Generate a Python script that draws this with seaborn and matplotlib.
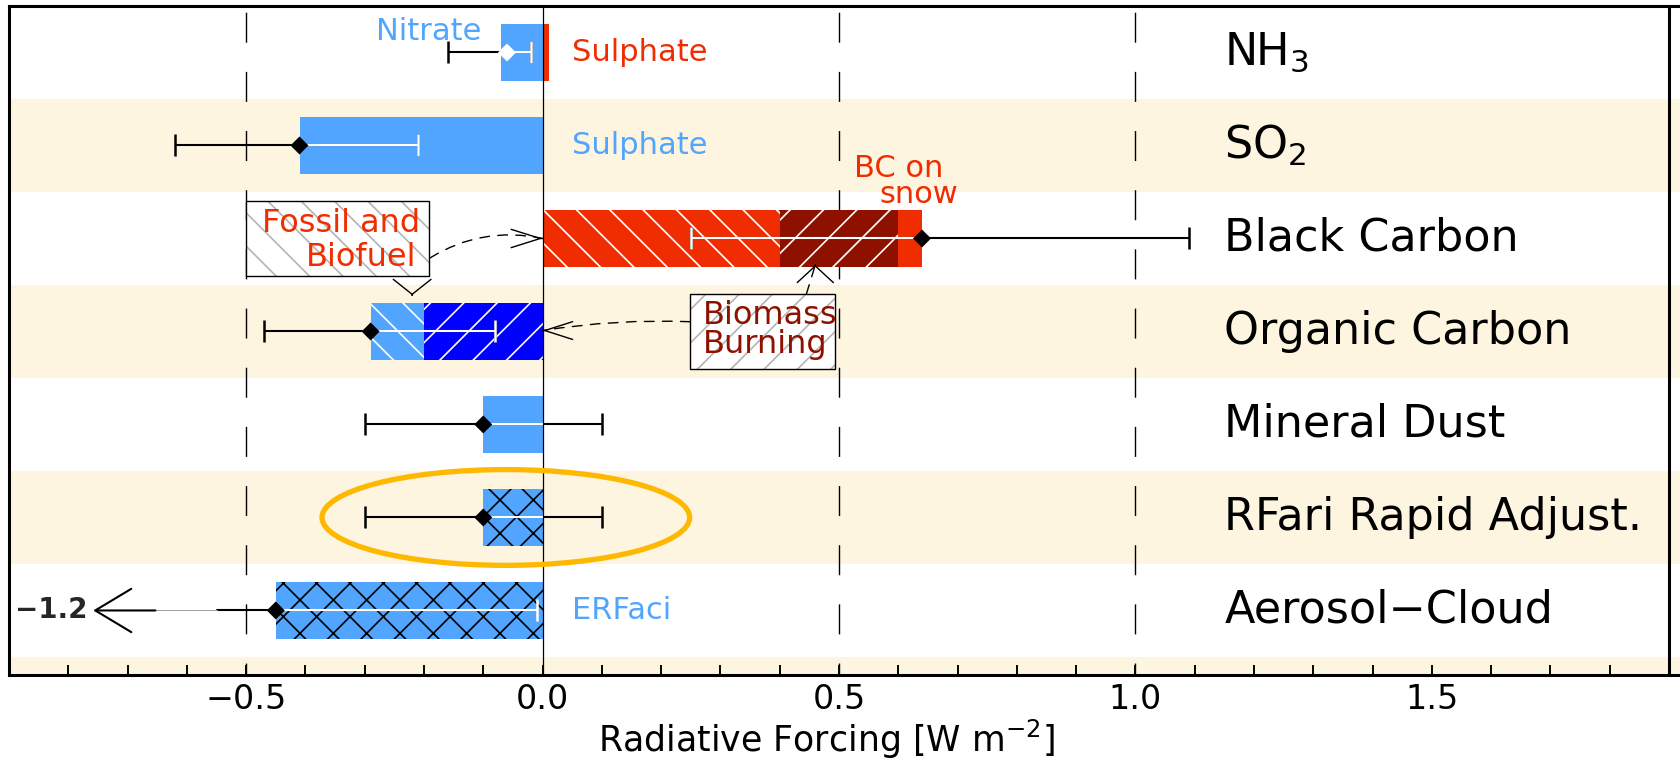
import numpy as np
import pandas as pd
import seaborn as sns
import matplotlib.pyplot as plt
from matplotlib.patches import Ellipse, Rectangle, FancyArrowPatch
from matplotlib.ticker import FixedLocator, MultipleLocator, FuncFormatter, NullFormatter

# aerosol forcing by component [W m-2]
rows = ['NH$_3$', 'SO$_2$', 'Black Carbon', 'Organic Carbon', 'Mineral Dust',
        'RFari Rapid Adjust.', 'Aerosol−Cloud']
best = [-0.06, -0.41, 0.64, -0.29, -0.10, -0.10, -0.45]
low = [-0.16, -0.62, 0.25, -0.47, -0.30, -0.30, -1.2]
high = [-0.02, -0.21, 1.09, -0.08, 0.10, 0.10, -0.01]
total_bar = [-0.07, -0.41, 0.64, -0.29, -0.10, -0.10, -0.45]

# pieces of the stacked bars
nh3_sulphate = 0.01
bc_fossil, bc_biomass, bc_snow = 0.40, 0.20, 0.04
oc_fossil, oc_biomass = -0.09, -0.20

LB = '#52A5FF'
RED = '#F02D00'
DRED = '#8E1100'
BLUE = '#0000FF'
CREAM = '#FDF5E0'
GOLD = '#FFB800'

bar_colors = [LB, LB, RED, LB, LB, LB, LB]
bar_hatch = ['', '', '', '\\\\', '', 'xx', 'xx']
hatch_col = ['white', 'white', 'white', 'white', 'white', 'black', 'black']
dia_col = ['white'] + ['black'] * 6

sns.set_theme(style='white')
plt.rcParams['font.family'] = ['DejaVu Sans']
plt.rcParams['mathtext.fontset'] = 'dejavusans'
plt.rcParams['hatch.linewidth'] = 0.6
plt.rcParams['lines.scale_dashes'] = False

fig = plt.figure(figsize=(8.4, 3.825), dpi=200)
ax = fig.add_axes([9 / 1680, 90 / 765, 1 - 9 / 1680, 669 / 765])

n = len(rows)
y = np.arange(n)

# alternating cream bands
for i in range(1, n + 1, 2):
    ax.axhspan(i - 0.5, i + 0.5, color=CREAM, lw=0, zorder=0)

for v in [-0.5, 0.5, 1.0]:
    ax.axvline(v, color='black', lw=0.5, linestyle=(6.5, (10.8, 10.5)), zorder=1)

n0 = len(ax.patches)
df = pd.DataFrame({'component': rows, 'total': total_bar})
sns.barplot(data=df, x='total', y='component', hue='component', palette=bar_colors,
            orient='h', width=0.62, saturation=1, errorbar=None, legend=False,
            ax=ax, zorder=2, linewidth=0)
base = sorted(ax.patches[n0:], key=lambda p: p.get_y())
for p, h, hc in zip(base, bar_hatch, hatch_col):
    p.set_hatch(h)
    p.set_edgecolor(hc)
    p.set_linewidth(0)

# stacked overlays
ax.barh(0, nh3_sulphate, height=0.62, color=RED, lw=0, zorder=2)
ax.barh(2, bc_fossil + bc_biomass, height=0.62, color=DRED, hatch='//', edgecolor='white', lw=0, zorder=2)
ax.barh(2, bc_fossil, height=0.62, color=RED, hatch='\\\\', edgecolor='white', lw=0, zorder=2)
ax.barh(3, oc_biomass, height=0.62, color=BLUE, hatch='//', edgecolor='white', lw=0, zorder=2)

ax.axvline(0, color='black', lw=0.45, zorder=3.5)

# whiskers: black outside the bars, white inside
b = np.array(best)
lo = np.array(low)
hi = np.array(high)
bar_lo = np.minimum(0, total_bar)
bar_hi = np.maximum(0, total_bar)
bar_hi[0] = nh3_sulphate
xmin = -0.9
m = lo > xmin
ax.errorbar(b[m], y[m], xerr=[b[m] - lo[m], hi[m] - b[m]], fmt='none', ecolor='black',
            elinewidth=0.75, capsize=4, capthick=0.9, zorder=4)
for i in y:
    w0 = max(lo[i], bar_lo[i])
    w1 = min(hi[i], bar_hi[i])
    ax.plot([w0, w1], [i, i], color='white', lw=0.75, zorder=5, solid_capstyle='butt')
    if lo[i] > bar_lo[i]:
        ax.plot(w0, i, marker='|', ms=8, mew=0.9, color='white', zorder=5)
    if hi[i] < bar_hi[i]:
        ax.plot(w1, i, marker='|', ms=8, mew=0.9, color='white', zorder=5)

# off-scale whisker of aerosol-cloud
brk0, brk1, tip = -0.55, -0.653, -0.758
ac = n - 1
ax.plot([b[ac], brk0], [ac, ac], color='black', lw=0.75, zorder=4)
ax.plot([brk0, brk1], [ac, ac], color='#A0A0A0', lw=0.35, zorder=4)
ax.add_patch(FancyArrowPatch((brk1, ac), (tip, ac), arrowstyle='->,head_length=13,head_width=7.8',
                             mutation_scale=1, lw=0.75, color='black', shrinkA=0, shrinkB=0, zorder=4))
ax.text(tip - 0.01, ac, f'−{abs(low[ac]):.1f}', ha='right', va='center', fontsize=10,
        fontweight='bold', zorder=8)

ax.scatter(b, y, marker='D', s=21, c=dia_col, linewidths=0, zorder=6)

# component names
for i, name in enumerate(rows):
    ax.text(1.15, i, name, fontsize=16, va='center', color='black', zorder=8)

# small labels
ax.text(-0.103, -0.134, 'Nitrate', color=LB, ha='right', va='baseline', fontsize=11, zorder=8)
ax.text(0.05, 0, 'Sulphate', color=RED, va='center', fontsize=11, zorder=8)
ax.text(0.05, 1, 'Sulphate', color=LB, va='center', fontsize=11, zorder=8)
ax.text(0.05, 6, 'ERFaci', color=LB, va='center', fontsize=11, zorder=8)
ax.text(0.601, 1.335, 'BC on', color=RED, ha='center', va='baseline', fontsize=11, zorder=8)
ax.text(0.635, 1.62, 'snow', color=RED, ha='center', va='baseline', fontsize=11, zorder=8)


def box(x0, x1, y0, y1, hatch):
    ax.add_patch(Rectangle((x0, y0), x1 - x0, y1 - y0, facecolor='white', edgecolor='#B4B4B4',
                           hatch=hatch, lw=0, zorder=3))
    ax.add_patch(Rectangle((x0, y0), x1 - x0, y1 - y0, fill=False, edgecolor='black', lw=0.5, zorder=3.2))


def head(tipx, tipy, dx, dy, hl, hw):
    ax.add_patch(FancyArrowPatch((tipx - dx, tipy - dy), (tipx, tipy),
                                 arrowstyle=f'->,head_length={hl},head_width={hw}', mutation_scale=1,
                                 lw=0.5, color='black', shrinkA=0, shrinkB=0, zorder=7))


def shaft(p0, p1, rad):
    ax.add_patch(FancyArrowPatch(p0, p1, arrowstyle='-', connectionstyle=f'arc3,rad={rad}',
                                 lw=0.5, color='black', linestyle=(0, (3.5, 3)), shrinkA=0, shrinkB=0,
                                 zorder=7))


box(-0.5, -0.192, 1.594, 2.40, '\\\\')
ax.text(-0.207, 1.93, 'Fossil and', color=RED, ha='right', va='baseline', fontsize=11.5, zorder=8)
ax.text(-0.213, 2.30, 'Biofuel', color=RED, ha='right', va='baseline', fontsize=11.5, zorder=8)

box(0.249, 0.493, 2.597, 3.407, '//')
ax.text(0.27, 2.92, 'Biomass', color=DRED, ha='left', va='baseline', fontsize=11.5, zorder=8)
ax.text(0.27, 3.23, 'Burning', color=DRED, ha='left', va='baseline', fontsize=11.5, zorder=8)

shaft((-0.19, 2.21), (0.0, 2.0), -0.2)
head(0.0, 2.0, 0.001, 0, 10.5, 3.3)
head(-0.22, 2.61, 0, 0.001, 5.4, 6.8)
shaft((0.249, 2.895), (0.0, 2.99), 0.05)
head(0.0, 2.99, -0.001, 0, 10, 3.2)
shaft((0.445, 2.597), (0.46, 2.285), 0)
head(0.46, 2.285, 0, -0.001, 6, 6.5)

ax.add_patch(Ellipse((-0.062, 5.0), 0.62, 1.03, fill=False, edgecolor=GOLD, lw=1.9, zorder=7))

# frame and axis
ax.set_xlim(xmin, 1.9 + 11 / 592.86)
ax.set_ylim(6.694, -0.5)
ax.axvline(1.9, color='black', lw=1.1, zorder=9)
for s in ['left', 'top', 'bottom']:
    ax.spines[s].set_visible(True)
    ax.spines[s].set_linewidth(1.1)
    ax.spines[s].set_color('black')
ax.spines['right'].set_visible(False)
ax.set_yticks([])
ax.set_ylabel('')
ax.xaxis.set_major_locator(FixedLocator([-0.5, 0.0, 0.5, 1.0, 1.5]))
ax.xaxis.set_minor_locator(MultipleLocator(0.1))
ax.xaxis.set_major_formatter(FuncFormatter(lambda v, _: f'{v:.1f}'.replace('-', '−')))
ax.xaxis.set_minor_formatter(NullFormatter())
ax.tick_params(axis='x', which='both', direction='in', length=3.6, width=0.7, color='black',
               bottom=True, top=False, labelsize=12, pad=3, labelcolor='black')
ax.set_xlabel('Radiative Forcing [W m$^{-2}$]', fontsize=12.5, color='black')
ax.xaxis.label.set_va('bottom')
ax.xaxis.set_label_coords(0.489, -0.128)

fig.savefig('out.png', dpi=200)
